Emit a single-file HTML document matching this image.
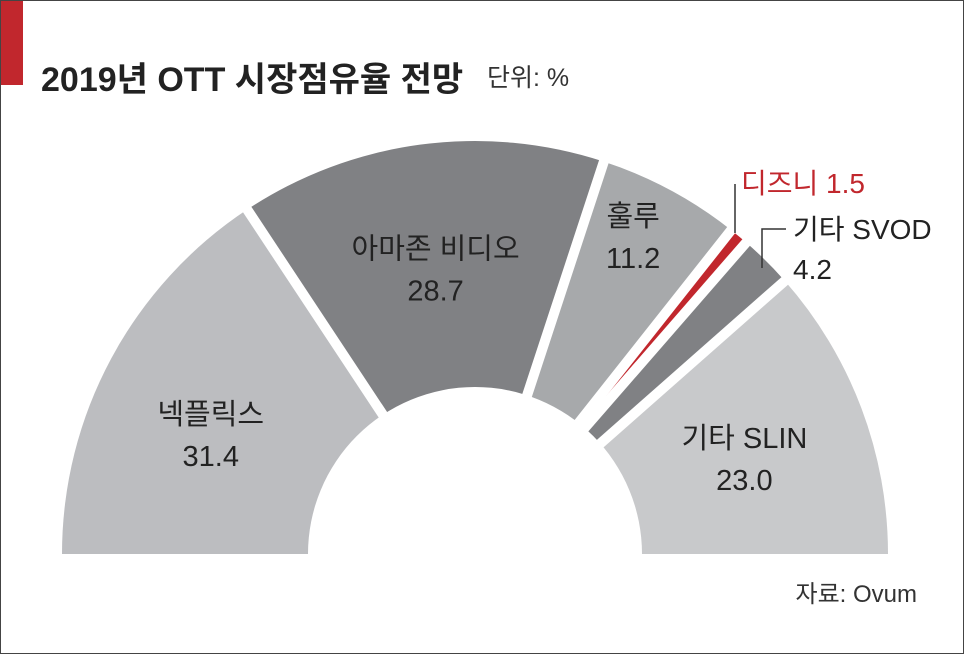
<!DOCTYPE html>
<html><head><meta charset="utf-8"><style>
html,body{margin:0;padding:0;background:#fff;overflow:hidden}
#wrap{position:relative;width:962px;height:652px;border:1px solid #444;overflow:hidden;background:#fff;font-family:"Liberation Sans","Noto Sans CJK KR",sans-serif}
svg{display:block}
</style></head><body>
<div id="wrap">
<svg width="962" height="652" viewBox="0 0 962 652">
<rect x="0" y="0" width="22" height="84" fill="#c1272d"/>
<text x="40" y="90" font-size="34" font-weight="bold" fill="#222" font-family="Liberation Sans,Noto Sans CJK KR,sans-serif">2019년 OTT 시장점유율 전망</text>
<text x="486" y="85" font-size="25" fill="#333" font-family="Liberation Sans,Noto Sans CJK KR,sans-serif">단위: %</text>
<g id="slices"></g>
<g id="labels"></g>
<text x="916" y="601" font-size="24" fill="#333" text-anchor="end" font-family="Liberation Sans,Noto Sans CJK KR,sans-serif">자료: Ovum</text>
</svg>
</div>
<script>
const categories = ["넥플릭스","아마존 비디오","훌루","디즈니","기타 SVOD","기타 SLIN"];
const shares = [31.4, 28.7, 11.2, 1.5, 4.2, 23.0];
const valueLabels = ["31.4","28.7","11.2","1.5","4.2","23.0"];
const colors = ["#bcbdc0","#808184","#a7a9ab","#c1272d","#808184","#c8c9cb"];
const NS="http://www.w3.org/2000/svg";
const cx=474, cy=553, R=413, r0=167;
const total = shares.reduce((a,b)=>a+b,0);
function ang(v){return Math.PI - v/total*Math.PI;}
function pt(a,rad){return [cx+rad*Math.cos(a), cy-rad*Math.sin(a)];}
const g=document.getElementById('slices');
let acc=0; const bounds=[];
shares.forEach((v,i)=>{
  const a0=ang(acc), a1=ang(acc+v);
  const p0=pt(a0,R), p1=pt(a1,R);
  const p=document.createElementNS(NS,'path');
  p.setAttribute('d',`M${cx},${cy} L${p0[0]},${p0[1]} A${R},${R} 0 0 1 ${p1[0]},${p1[1]} Z`);
  p.setAttribute('fill',colors[i]);
  
  
  g.appendChild(p);
  acc+=v; if(acc<total-0.01) bounds.push(a1);
});
bounds.forEach((a,i)=>{
  const e=pt(a,R+5);
  const l=document.createElementNS(NS,'line');
  l.setAttribute('x1',cx);l.setAttribute('y1',cy);l.setAttribute('x2',e[0]);l.setAttribute('y2',e[1]);
  l.setAttribute('stroke','#fff');l.setAttribute('stroke-width','10');
  
  
  g.appendChild(l);
});
const hole=document.createElementNS(NS,'circle');
hole.setAttribute('cx',cx);hole.setAttribute('cy',cy);hole.setAttribute('r',r0);hole.setAttribute('fill','#fff');


g.appendChild(hole);
const bot=document.createElementNS(NS,'rect');
bot.setAttribute('x',0);bot.setAttribute('y',cy);bot.setAttribute('width',962);bot.setAttribute('height',99);bot.setAttribute('fill','#fff');


g.appendChild(bot);
const L=document.getElementById('labels');
function txt(x,y,s,fill,size,anchor,name){
  const t=document.createElementNS(NS,'text');
  t.setAttribute('x',x);t.setAttribute('y',y);t.setAttribute('font-size',size);
  t.setAttribute('fill',fill);t.setAttribute('text-anchor',anchor);
  t.setAttribute('font-family','Liberation Sans,Noto Sans CJK KR,sans-serif');
  t.textContent=s;
  
  
  L.appendChild(t);
}
const inner=[0,1,2,5];
const lr=[300,296,334,288];
const ldy=[20,6,-26,4];
acc=0; const mids=[];
shares.forEach((v)=>{mids.push(ang(acc+v/2)); acc+=v;});
inner.forEach((i,k)=>{
  const p=pt(mids[i],lr[k]);
  const y=p[1]+ldy[k];
  txt(p[0],y-8,categories[i],"#222",29,"middle","label-name-"+i);
  txt(p[0],y+34,valueLabels[i],"#222",29,"middle","label-value-"+i);
});
txt(740,192,categories[3]+" "+valueLabels[3],"#c1272d",28,"start","label-disney");
txt(792,238,categories[4],"#222",28,"start","label-name-svod");
txt(792,278,valueLabels[4],"#222",28,"start","label-value-svod");
function ln(d,name){const p=document.createElementNS(NS,'path');p.setAttribute('d',d);p.setAttribute('stroke','#333');p.setAttribute('stroke-width','1.5');p.setAttribute('fill','none');


L.appendChild(p);}
ln("M734,183 L734,232","leader-disney");
ln("M785,228 L761,228 L761,267","leader-svod");
</script>
</body></html>
